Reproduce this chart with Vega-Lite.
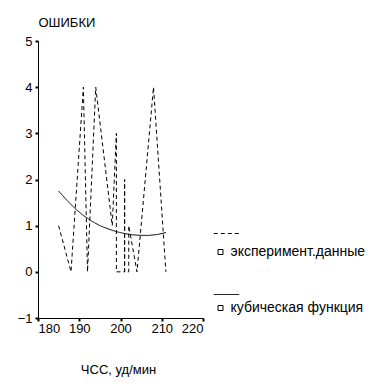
{
  "$schema": "https://vega.github.io/schema/vega-lite/v6.json",
  "width": 165,
  "height": 277,
  "autosize": {"type": "none"},
  "padding": {"left": 38, "top": 41, "right": 178, "bottom": 71},
  "background": "white",
  "config": {
    "view": {"stroke": null},
    "font": "Liberation Sans",
    "axis": {
      "grid": false,
      "domainColor": "black",
      "domainWidth": 1,
      "tickColor": "black",
      "tickWidth": 2,
      "tickSize": 3,
      "labelColor": "black",
      "labelFont": "Liberation Sans",
      "labelFontSize": 13,
      "titleFont": "Liberation Sans",
      "titleFontSize": 13,
      "titleFontWeight": "normal",
      "titleColor": "black"
    },
    "legend": {
      "padding": 0,
      "labelFont": "Liberation Sans",
      "labelFontSize": 14,
      "labelColor": "black",
      "labelLimit": 220
    }
  },
  "data": {
    "values": [
      {"series": "эксперимент.данные", "i": 1, "x": 185, "y": 1},
      {"series": "эксперимент.данные", "i": 2, "x": 188, "y": 0},
      {"series": "эксперимент.данные", "i": 3, "x": 191, "y": 4},
      {"series": "эксперимент.данные", "i": 4, "x": 192, "y": 0},
      {"series": "эксперимент.данные", "i": 5, "x": 194, "y": 4},
      {"series": "эксперимент.данные", "i": 6, "x": 198, "y": 1},
      {"series": "эксперимент.данные", "i": 7, "x": 199, "y": 3},
      {"series": "эксперимент.данные", "i": 8, "x": 199, "y": 0},
      {"series": "эксперимент.данные", "i": 9, "x": 201, "y": 0},
      {"series": "эксперимент.данные", "i": 10, "x": 201, "y": 2},
      {"series": "эксперимент.данные", "i": 11, "x": 201, "y": 0},
      {"series": "эксперимент.данные", "i": 12, "x": 202, "y": 0},
      {"series": "эксперимент.данные", "i": 13, "x": 202, "y": 1},
      {"series": "эксперимент.данные", "i": 14, "x": 204, "y": 0},
      {"series": "эксперимент.данные", "i": 15, "x": 208, "y": 4},
      {"series": "эксперимент.данные", "i": 16, "x": 211, "y": 0},
      {"series": "кубическая функция", "i": 1, "x": 185, "y": 1.75},
      {"series": "кубическая функция", "i": 2, "x": 187, "y": 1.55},
      {"series": "кубическая функция", "i": 3, "x": 189, "y": 1.37},
      {"series": "кубическая функция", "i": 4, "x": 191, "y": 1.22},
      {"series": "кубическая функция", "i": 5, "x": 193, "y": 1.1},
      {"series": "кубическая функция", "i": 6, "x": 195, "y": 1.0},
      {"series": "кубическая функция", "i": 7, "x": 197, "y": 0.93},
      {"series": "кубическая функция", "i": 8, "x": 199, "y": 0.87},
      {"series": "кубическая функция", "i": 9, "x": 201, "y": 0.83},
      {"series": "кубическая функция", "i": 10, "x": 203, "y": 0.8},
      {"series": "кубическая функция", "i": 11, "x": 205, "y": 0.79},
      {"series": "кубическая функция", "i": 12, "x": 207, "y": 0.79},
      {"series": "кубическая функция", "i": 13, "x": 209, "y": 0.81},
      {"series": "кубическая функция", "i": 14, "x": 211, "y": 0.85}
    ]
  },
  "mark": {"type": "line", "strokeWidth": 1},
  "encoding": {
    "x": {
      "field": "x",
      "type": "quantitative",
      "scale": {"domain": [180, 220], "nice": false, "zero": false},
      "axis": {
        "values": [180, 190, 200, 210, 220],
        "title": "ЧСС, уд/мин",
        "labelPadding": 1,
        "titleY": 51,
        "titleBaseline": "middle",
        "titleX": 80
      }
    },
    "y": {
      "field": "y",
      "type": "quantitative",
      "scale": {"domain": [-1, 5], "nice": false, "zero": false},
      "axis": {
        "values": [-1, 0, 1, 2, 3, 4, 5],
        "title": "ОШИБКИ",
        "titleAngle": 0,
        "titleAlign": "left",
        "titleBaseline": "middle",
        "titleX": 0,
        "titleY": -19,
        "labelPadding": 3
      }
    },
    "strokeDash": {
      "field": "series",
      "type": "nominal",
      "sort": "descending",
      "scale": {"range": [[4, 3], [1, 0]]},
      "legend": {
        "orient": "none",
        "legendX": 175,
        "legendY": 179,
        "title": null,
        "symbolType": "M -1 0 L 1 0",
        "symbolSize": 645,
        "symbolStrokeColor": "black",
        "symbolStrokeWidth": 1,
        "labelExpr": "''",
        "labelOpacity": 0,
        "rowPadding": 40
      }
    },
    "color": {
      "field": "series",
      "type": "nominal",
      "scale": {"domain": ["эксперимент.данные", "кубическая функция"], "range": ["black", "black"]},
      "legend": {
        "orient": "none",
        "legendX": 175.5,
        "legendY": 204,
        "title": null,
        "symbolType": "square",
        "symbolSize": 25,
        "symbolStrokeColor": "black",
        "symbolFillColor": "white",
        "symbolStrokeWidth": 1,
        "labelOffset": 3,
        "rowPadding": 42
      }
    },
    "order": {"field": "i", "type": "quantitative"}
  }
}
